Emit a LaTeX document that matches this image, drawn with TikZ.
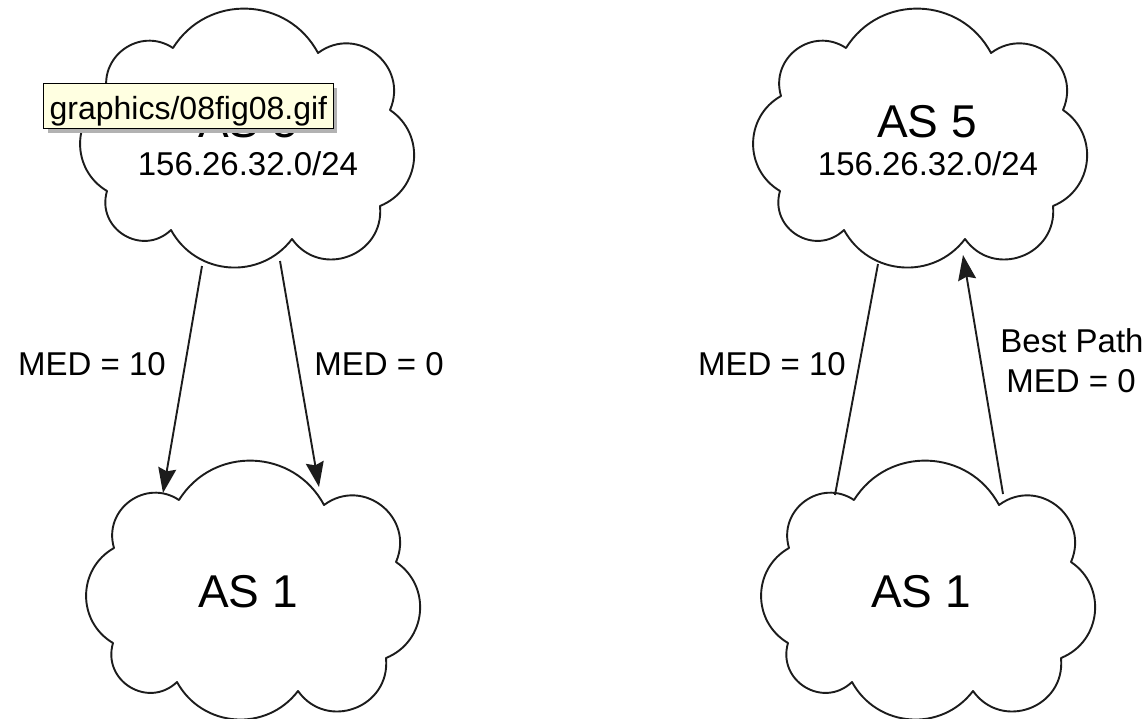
\documentclass[tikz,border=0pt]{standalone}
\usepackage{fontspec}
\setmainfont{Liberation Sans}
\usetikzlibrary{calc,arrows.meta,shadows}

\definecolor{ink}{HTML}{1C1C1C}
\definecolor{tipyellow}{HTML}{FFFFE1}

% one puff of a cloud: a circular-looking arc from #1 to #2,
% #3 = control length as a fraction of the chord, #4 = tangent angle at the ends
\newcommand\puff[4]{.. controls ($(#1)!#3!#4:(#2)$) and ($(#2)!#3!-#4:(#1)$) .. (#2)}

% cloud outline with eight puffs; #1 name prefix, (#2,#3) centre
\newcommand\cloudoutline[3]{%
  \begin{scope}[shift={(#2,#3)}]
    \coordinate (#1-n1) at (-75,-90);
    \coordinate (#1-n2) at (70,-85);
    \coordinate (#1-n3) at (142,-28);
    \coordinate (#1-n4) at (132,68);
    \coordinate (#1-n5) at (44,101);
    \coordinate (#1-n6) at (-77,92);
    \coordinate (#1-n7) at (-141,53);
    \coordinate (#1-n8) at (-140,-42);
  \end{scope}
  \draw[cloudline] (#1-n1)
    \puff{#1-n1}{#1-n2}{0.4444}{60}
    \puff{#1-n2}{#1-n3}{0.5296}{75}
    \puff{#1-n3}{#1-n4}{0.4537}{62}
    \puff{#1-n4}{#1-n5}{0.5296}{75}
    \puff{#1-n5}{#1-n6}{0.4316}{57}
    \puff{#1-n6}{#1-n7}{0.5296}{75}
    \puff{#1-n7}{#1-n8}{0.4444}{60}
    \puff{#1-n8}{#1-n1}{0.4968}{70}
    -- cycle;
}

\begin{document}
\begin{tikzpicture}[x=1pt,y=-1pt,
  cloudline/.style={draw=ink, line width=1.9pt, line join=round},
  link/.style={draw=ink, line width=1.9pt},
  arrowlink/.style={link, -{Stealth[length=25pt,width=18pt,inset=3pt]}},
  asname/.style={font=\fontsize{46}{50}\selectfont, anchor=base, inner sep=0pt},
  netlabel/.style={font=\fontsize{33}{38}\selectfont, anchor=base, inner sep=0pt},
  medlabel/.style={font=\fontsize{33}{38}\selectfont, anchor=base, inner sep=0pt},
  tipbox/.style={draw=black, line width=1.3pt, fill=tipyellow,
    font=\fontsize{32}{36}\selectfont, anchor=north west,
    inner xsep=6pt, inner ysep=0pt, text height=36pt, text depth=9pt,
    drop shadow={shadow xshift=4pt, shadow yshift=-4pt, fill=black!30, opacity=1}}
]
\path[use as bounding box, fill=white] (0,0) rectangle (1148,718);

% ---- left: AS 5 advertises two MEDs ----
\cloudoutline{ltop}{248}{138}
\cloudoutline{lbot}{254}{590}
\node[asname] (las5) at (248,137) {AS 5};
\node[netlabel] (lnet) at (248,175) {156.26.32.0/24};
\node[asname] (las1) at (248,607) {AS 1};

\coordinate (lsrc1) at (202,266);
\coordinate (ldst1) at (163,493);
\coordinate (lsrc2) at (280,261);
\coordinate (ldst2) at (319,487);
\draw[arrowlink] (lsrc1) -- (ldst1);
\draw[arrowlink] (lsrc2) -- (ldst2);
\node[medlabel] (lmed10) at (92,375) {MED = 10};
\node[medlabel] (lmed0) at (379,375) {MED = 0};

% ---- right: AS 1 picks the lower MED ----
\cloudoutline{rtop}{921}{138}
\cloudoutline{rbot}{929}{590}
\node[asname] (ras5) at (927,137) {AS 5};
\node[netlabel] (rnet) at (928,175) {156.26.32.0/24};
\node[asname] (ras1) at (921,607) {AS 1};

\coordinate (rsrc1) at (835,495);
\coordinate (rdst1) at (878,264);
\coordinate (rsrc2) at (1003,494);
\coordinate (rdst2) at (963,255);
\draw[link] (rsrc1) -- (rdst1);
\draw[arrowlink] (rsrc2) -- (rdst2);
\node[medlabel] (rmed10) at (772,375) {MED = 10};
\node[medlabel] (rbest) at (1072,352) {Best Path};
\node[medlabel] (rmed0) at (1071,392) {MED = 0};

% ---- file name tooltip over the left cloud ----
\node[tipbox] (tip) at (43,83) {graphics/08fig08.gif};
\end{tikzpicture}
\end{document}
